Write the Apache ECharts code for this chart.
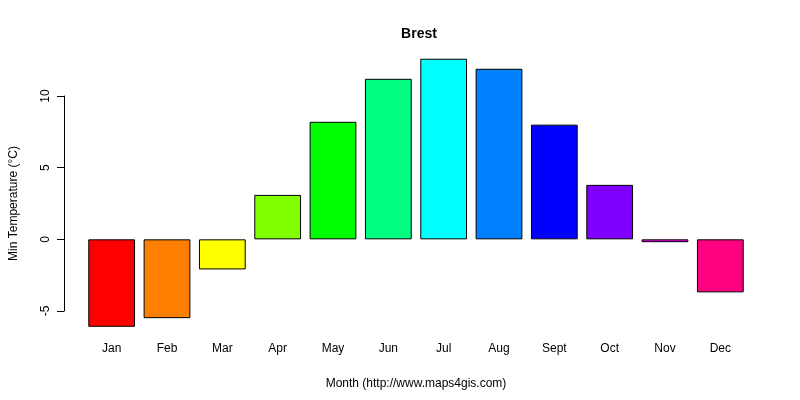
<!DOCTYPE html>
<html>
<head>
<meta charset="utf-8">
<script src="https://cdn.jsdelivr.net/npm/echarts@6/dist/echarts.min.js"></script>
<style>body{margin:0;background:#fff}#chart{width:800px;height:400px}</style>
</head>
<body>
<div id="chart"></div>
<script>
var months = ['Jan', 'Feb', 'Mar', 'Apr', 'May', 'Jun', 'Jul', 'Aug', 'Sept', 'Oct', 'Nov', 'Dec'];
var minTemp = [-6.1, -5.5, -2.1, 3.1, 8.2, 11.2, 12.6, 11.9, 8.0, 3.8, -0.2, -3.7];
var barColors = ['#FF0000', '#FF8000', '#FFFF00', '#80FF00', '#00FF00', '#00FF80',
	'#00FFFF', '#0080FF', '#0000FF', '#8000FF', '#FF00FF', '#FF0080'];

var chart = echarts.init(document.getElementById('chart'));
var font = 'Liberation Sans, Arial, sans-serif';

chart.setOption({
	animation : false,
	title : {
		text : 'Brest',
		left : 414,
		top : 22,
		textAlign : 'center',
		textStyle : { fontFamily : font, fontSize : 14, fontWeight : 'bold', color : '#000' }
	},
	grid : { left : 80, right : 52, top : 96, bottom : 89 },
	xAxis : {
		type : 'category',
		data : months,
		axisLine : { show : false },
		axisTick : { show : false },
		axisLabel : { margin : 32, fontFamily : font, fontSize : 12, color : '#000' },
		name : 'Month (http://www.maps4gis.com)',
		nameLocation : 'middle',
		nameGap : 67,
		nameTextStyle : { fontFamily : font, fontSize : 12, color : '#000' }
	},
	yAxis : {
		type : 'value',
		min : -5,
		max : 10,
		interval : 5,
		offset : 20,
		splitLine : { show : false },
		axisLine : { show : true, lineStyle : { color : '#000' } },
		axisTick : { show : true, length : 7, lineStyle : { color : '#000' } },
		axisLabel : { rotate : 90, margin : 12, fontFamily : font, fontSize : 12, color : '#000' },
		name : 'Min Temperature (°C)',
		nameLocation : 'middle',
		nameGap : 44,
		nameTextStyle : { fontFamily : font, fontSize : 12, color : '#000' }
	},
	series : [ {
		type : 'bar',
		clip : false,
		barCategoryGap : '15.5%',
		data : minTemp.map(function(v, i) {
			return { value : v, itemStyle : { color : barColors[i] } };
		}),
		itemStyle : { borderColor : '#000', borderWidth : 1 }
	} ]
});
</script>
</body>
</html>
